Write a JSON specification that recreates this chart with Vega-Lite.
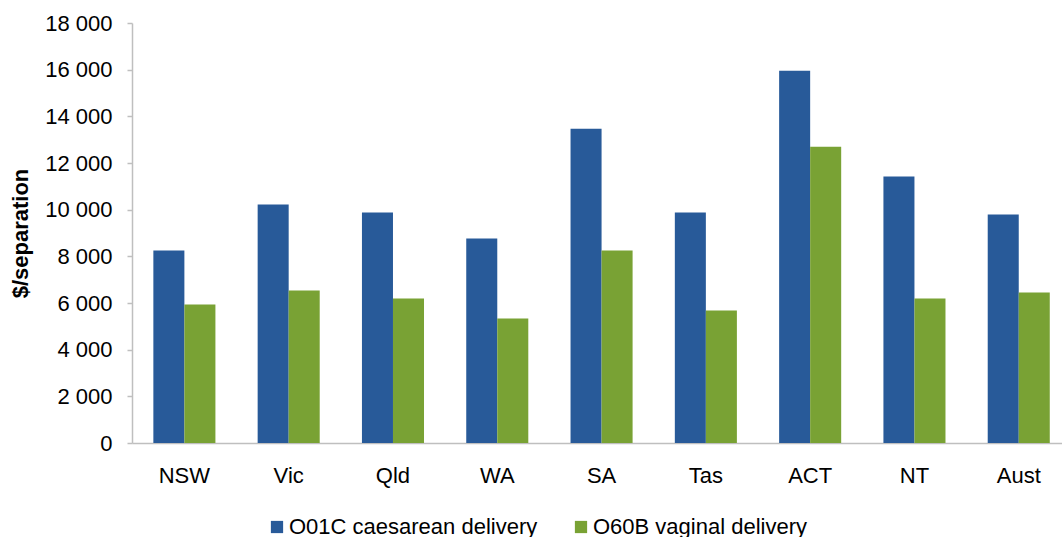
{
  "$schema": "https://vega.github.io/schema/vega-lite/v6.json",
  "autosize": {"type": "none"},
  "padding": {"left": 132, "top": 23, "right": 0, "bottom": 94},
  "width": 930,
  "height": 420,
  "background": "white",
  "config": {
    "font": "Liberation Sans",
    "view": {"stroke": null}
  },
  "data": {
    "values": [
      {"state": "NSW", "series": "O01C caesarean delivery", "cost": 8250},
      {"state": "NSW", "series": "O60B vaginal delivery", "cost": 5940},
      {"state": "Vic", "series": "O01C caesarean delivery", "cost": 10220},
      {"state": "Vic", "series": "O60B vaginal delivery", "cost": 6540},
      {"state": "Qld", "series": "O01C caesarean delivery", "cost": 9880},
      {"state": "Qld", "series": "O60B vaginal delivery", "cost": 6190},
      {"state": "WA", "series": "O01C caesarean delivery", "cost": 8760},
      {"state": "WA", "series": "O60B vaginal delivery", "cost": 5340},
      {"state": "SA", "series": "O01C caesarean delivery", "cost": 13470},
      {"state": "SA", "series": "O60B vaginal delivery", "cost": 8250},
      {"state": "Tas", "series": "O01C caesarean delivery", "cost": 9880},
      {"state": "Tas", "series": "O60B vaginal delivery", "cost": 5680},
      {"state": "ACT", "series": "O01C caesarean delivery", "cost": 15950},
      {"state": "ACT", "series": "O60B vaginal delivery", "cost": 12700},
      {"state": "NT", "series": "O01C caesarean delivery", "cost": 11420},
      {"state": "NT", "series": "O60B vaginal delivery", "cost": 6190},
      {"state": "Aust", "series": "O01C caesarean delivery", "cost": 9790},
      {"state": "Aust", "series": "O60B vaginal delivery", "cost": 6450}
    ]
  },
  "mark": {"type": "bar"},
  "encoding": {
    "x": {
      "field": "state",
      "type": "nominal",
      "sort": ["NSW", "Vic", "Qld", "WA", "SA", "Tas", "ACT", "NT", "Aust"],
      "scale": {"paddingInner": 0.405, "paddingOuter": 0.161, "align": 0.636},
      "axis": {
        "title": null,
        "labelAngle": 0,
        "labelFontSize": 22,
        "labelColor": "#000000",
        "labelPadding": 22,
        "ticks": false,
        "domainColor": "#BFBFBF",
        "domainWidth": 1.5,
        "grid": false
      }
    },
    "xOffset": {
      "field": "series",
      "type": "nominal",
      "scale": {"paddingInner": 0, "paddingOuter": 0}
    },
    "y": {
      "field": "cost",
      "type": "quantitative",
      "scale": {"domain": [0, 18000], "nice": false},
      "axis": {
        "title": "$/separation",
        "titleFontSize": 22,
        "titleFontWeight": "bold",
        "titleColor": "#000000",
        "titlePadding": 12,
        "values": [0, 2000, 4000, 6000, 8000, 10000, 12000, 14000, 16000, 18000],
        "labelExpr": "replace(format(datum.value, ','), ',', ' ')",
        "labelFontSize": 22,
        "labelColor": "#000000",
        "labelPadding": 15,
        "tickSize": 5,
        "tickColor": "#BFBFBF",
        "tickWidth": 1.5,
        "domainColor": "#BFBFBF",
        "domainWidth": 1.5,
        "grid": false
      }
    },
    "color": {
      "field": "series",
      "type": "nominal",
      "scale": {"range": ["#285A99", "#79A234"]},
      "legend": {
        "title": null,
        "orient": "none",
        "direction": "horizontal",
        "legendX": 134,
        "legendY": 493,
        "padding": 0,
        "symbolType": "square",
        "symbolSize": 150,
        "symbolStrokeWidth": 0,
        "labelFontSize": 22,
        "labelLimit": 0,
        "labelColor": "#000000",
        "labelOffset": 1,
        "columnPadding": 32
      }
    }
  }
}
